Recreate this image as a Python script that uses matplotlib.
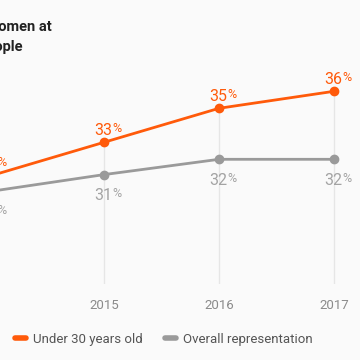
import matplotlib.pyplot as plt
from matplotlib.transforms import offset_copy
from matplotlib.lines import Line2D

plt.rcParams['font.family'] = ['Roboto', 'DejaVu Sans']

# data
years = [2014, 2015, 2016, 2017]
under_30 = [31.0, 33.0, 35.0, 36.0]
overall = [30.1, 31.1, 32.0, 32.0]
under_30_labels = ['31', '33', '35', '36']
overall_labels = ['30', '31', '32', '32']
series_names = ['Under 30 years old', 'Overall representation']

orange = '#ff5a0a'
grey_line = '#9a9a9a'
grey_text = '#a3a3a3'
bg = '#fafafa'

fig = plt.figure(figsize=(3.6, 3.6), dpi=100, facecolor=bg)
ax = fig.add_axes([0, (360 - 284) / 360, 1, (284 - 60) / 360])
ax.set_facecolor(bg)

ax.set_xticks(years)
ax.set_xticklabels([str(y) for y in years], fontsize=9.5, color='#8a8a8a')
ax.tick_params(axis='x', length=0, pad=11)
ax.set_yticks([])

# 17 px per percentage point, 2015/33% sits at px (104, 142.3)
ax.set_xlim(2015 - 104 / 115, 2015 + 256 / 115)
ax.set_ylim(33 - (284 - 142.3) / 17, 33 + (142.3 - 60) / 17)

ax.vlines(years, ax.get_ylim()[0], under_30, color='#e6e6e6', lw=1, zorder=1)

ax.plot(years, overall, color=grey_line, lw=2, marker='o', ms=6, zorder=3,
        solid_capstyle='round')
ax.plot(years, under_30, color=orange, lw=2, marker='o', ms=6, zorder=4,
        solid_capstyle='round')


def pct_label(x, y, num, color, dy):
    t1 = offset_copy(ax.transData, fig=fig, x=8.0, y=dy, units='dots')
    t2 = offset_copy(ax.transData, fig=fig, x=8.3, y=dy + 3.0, units='dots')
    ax.text(x, y, num, transform=t1, ha='right', va='baseline',
            fontsize=11.5, color=color, zorder=5)
    ax.text(x, y, '%', transform=t2, ha='left', va='baseline',
            fontsize=9, color=color, zorder=5)


for x, v, s in zip(years, under_30, under_30_labels):
    pct_label(x, v, s, orange, 7.5)
for x, v, s in zip(years, overall, overall_labels):
    pct_label(x, v, s, grey_text, -25.5)

for sp in ax.spines.values():
    sp.set_visible(False)

# title (left part runs off the canvas)
fig.text(52 / 360, 1 - 31.5 / 360, 'Representation of women at', ha='right',
         va='baseline', fontsize=10.5, fontweight='bold', color='#222222')
fig.text(23 / 360, 1 - 51 / 360, 'Facebook among people', ha='right',
         va='baseline', fontsize=10.5, fontweight='bold', color='#222222')

# legend
handles = [Line2D([], [], color=orange, lw=4, solid_capstyle='round'),
           Line2D([], [], color=grey_line, lw=4, solid_capstyle='round')]
fig.legend(handles, series_names, loc='center left',
           bbox_to_anchor=(15 / 360, 1 - 339 / 360), ncol=2, frameon=False,
           fontsize=9.5, labelcolor='#555555', handlelength=0.8,
           handletextpad=0.55, columnspacing=1.72, borderaxespad=0,
           borderpad=0)

fig.savefig('out.png', dpi=100, facecolor=bg)
